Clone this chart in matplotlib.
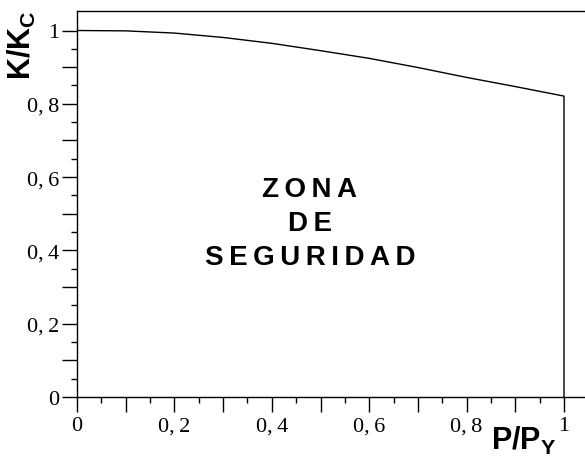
import numpy as np
import matplotlib
matplotlib.use('Agg')
from matplotlib import pyplot as plt
from matplotlib.ticker import FuncFormatter

# curve (P/Py vs K/Kc), drops to 0 at P/Py = 1
p_py = [0.0, 0.1, 0.2, 0.3, 0.4, 0.5, 0.6, 0.7, 0.8, 0.9, 1.0, 1.0]
k_kc = [1.0, 0.999, 0.993, 0.981, 0.965, 0.945, 0.924, 0.899, 0.872, 0.847, 0.821, 0.0]

zone_text = '\u2009'.join('ZONA') + '\n' + '\u2009'.join('DE') + '\n' + '\u2009'.join('SEGURIDAD')

plt.rcParams['mathtext.fontset'] = 'custom'
plt.rcParams['mathtext.rm'] = 'Liberation Sans'
plt.rcParams['mathtext.bf'] = 'Liberation Sans:bold'

W, H = 585, 460
fig = plt.figure(figsize=(W / 100, H / 100), dpi=100)
ax = fig.add_axes([77 / W, (H - 398) / H, 1 - 77 / W, (398 - 12) / H])

ax.plot(p_py, k_kc, color='black', lw=1.0)

ax.set_xlim(0, 508 / 487)
ax.set_ylim(0, 386 / 366.5)

ax.spines['right'].set_visible(False)
for s in ['left', 'bottom', 'top']:
    ax.spines[s].set_linewidth(1.0)

def fmt(v, pos):
    if abs(v) < 1e-9:
        return '0'
    if abs(v - 1) < 1e-9:
        return '1'
    if round(v * 10) % 2 == 1:
        return ''
    return ('%.1f' % v).replace('.', ',\u2009')

ax.set_xticks(np.arange(0, 1.01, 0.1))
ax.set_yticks(np.arange(0, 1.01, 0.1))
ax.set_xticks(np.arange(0.05, 1.0, 0.1), minor=True)
ax.set_yticks(np.arange(0.05, 1.0, 0.1), minor=True)
ax.xaxis.set_major_formatter(FuncFormatter(fmt))
ax.yaxis.set_major_formatter(FuncFormatter(fmt))

ax.tick_params(which='major', direction='out', length=11, width=1.0, labelsize=16)
ax.tick_params(which='minor', direction='out', length=4, width=1.0)
ax.tick_params(axis='x', which='major', pad=3)
ax.tick_params(axis='y', which='major', pad=2)
for lab in ax.get_xticklabels() + ax.get_yticklabels():
    lab.set_family('Liberation Serif')

ax.text(0.478, 0.475, zone_text, ha='center', va='center', fontsize=20,
        fontweight='bold', family='Liberation Sans', linespacing=1.42)

fig.text(22 / W, 1 - 45 / H, r'$\mathbf{K/K_C}$', rotation=90,
         ha='center', va='center', fontsize=22)
fig.text(491 / W, (H - 450) / H, r'$\mathbf{P/P_Y}$', ha='left',
         va='baseline', fontsize=22)

fig.savefig('out.png', dpi=100)
